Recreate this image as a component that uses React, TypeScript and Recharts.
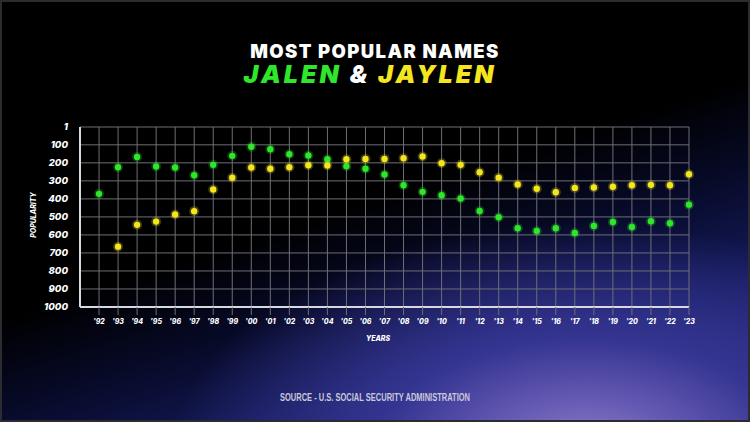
import React from "react";
import { ScatterChart, Scatter, XAxis, YAxis, CartesianGrid } from "recharts";

const years = [1992, 1993, 1994, 1995, 1996, 1997, 1998, 1999, 2000, 2001, 2002, 2003, 2004, 2005, 2006, 2007, 2008, 2009, 2010, 2011, 2012, 2013, 2014, 2015, 2016, 2017, 2018, 2019, 2020, 2021, 2022, 2023];
const jalenRanks = [372, 224, 167, 220, 226, 269, 211, 161, 111, 124, 152, 159, 180, 219, 233, 265, 324, 361, 380, 398, 467, 502, 563, 578, 563, 589, 550, 528, 556, 524, 535, 432];
const jaylenRanks: (number | null)[] = [null, 665, 544, 526, 487, 468, 348, 283, 226, 233, 224, 213, 215, 180, 178, 178, 174, 165, 202, 211, 252, 282, 320, 344, 363, 339, 337, 333, 324, 322, 324, 263];
const yTicks = [1, 100, 200, 300, 400, 500, 600, 700, 800, 900, 1000];

const jalenData = years.map((y, i) => ({ year: y, rank: jalenRanks[i] }));
const jaylenData = years
  .map((y, i) => ({ year: y, rank: jaylenRanks[i] }))
  .filter((d) => d.rank !== null);

const GREEN = "#2ee62a";
const YELLOW = "#f3e51e";
const GRID = "#6e6e76";
const FONT = "Inter, 'Open Sans', sans-serif";

const GlowDot = (props: any) => {
  const { cx, cy, fill } = props;
  if (cx == null || cy == null) return null;
  return (
    <g>
      <circle cx={cx} cy={cy} r={5} fill={fill} opacity={0.25} />
      <circle cx={cx} cy={cy} r={3.2} fill={fill} />
    </g>
  );
};

export default function App() {
  return (
    <div
      style={{
        position: "absolute",
        left: 0,
        top: 0,
        width: 750,
        height: 422,
        overflow: "hidden",
        background:
          "radial-gradient(ellipse 55% 55% at 78% 108%, #8f84cc 0%, #6459b2 25%, #353592 50%, rgba(30,34,110,0) 100%), linear-gradient(162deg, #000 48%, #070a28 62%, #141a5a 78%, #2a2c80 100%)",
        boxShadow: "inset 0 0 0 2px #2c2c30",
      }}
    >
      <ScatterChart
        width={750}
        height={422}
        margin={{ top: 127, right: 61, bottom: 85, left: 0 }}
        style={{ position: "absolute", left: 0, top: 0 }}
      >
        <CartesianGrid stroke={GRID} strokeWidth={1} />
        <XAxis
          type="number"
          dataKey="year"
          domain={[1991, 2023]}
          ticks={years}
          interval={0}
          height={30}
          tickFormatter={(v: number) => "'" + String(v).slice(2)}
          tick={{ fill: "#ffffff", fontSize: 7, fontWeight: 800, fontStyle: "italic", fontFamily: FONT }}
          tickLine={{ stroke: GRID }}
          tickSize={8}
          tickMargin={4}
          axisLine={{ stroke: "#d8d8e0", strokeWidth: 2 }}
        />
        <YAxis
          type="number"
          dataKey="rank"
          reversed
          domain={[1, 1000]}
          ticks={yTicks}
          interval={0}
          width={80}
          tick={{ fill: "#ffffff", fontSize: 9.5, fontWeight: 800, fontStyle: "italic", fontFamily: FONT }}
          tickLine={false}
          tickSize={0}
          tickMargin={12}
          axisLine={{ stroke: "#d8d8e0", strokeWidth: 2 }}
        />
        <Scatter data={jalenData} fill={GREEN} shape={GlowDot} isAnimationActive={false} />
        <Scatter data={jaylenData} fill={YELLOW} shape={GlowDot} isAnimationActive={false} />
      </ScatterChart>
      <svg
        width={750}
        height={422}
        style={{ position: "absolute", left: 0, top: 0, pointerEvents: "none" }}
      >
        <text
          x={375}
          y={58}
          textAnchor="middle"
          fill="#ffffff"
          fontSize={18.5}
          fontWeight={900}
          fontFamily={FONT}
          letterSpacing={1.4}
        >
          MOST POPULAR NAMES
        </text>
        <text
          x={370}
          y={83}
          textAnchor="middle"
          fontSize={25}
          fontWeight={900}
          fontStyle="italic"
          fontFamily={FONT}
          letterSpacing={3}
        >
          <tspan fill={GREEN}>JALEN</tspan>
          <tspan fill="#ffffff"> &amp; </tspan>
          <tspan fill={YELLOW}>JAYLEN</tspan>
        </text>
        <text
          x={36}
          y={215}
          transform="rotate(-90 36 215)"
          textAnchor="middle"
          fill="#ffffff"
          fontSize={7}
          fontWeight={800}
          fontStyle="italic"
          fontFamily={FONT}
        >
          POPULARITY
        </text>
        <text x={378} y={341} textAnchor="middle" fill="#ffffff" fontSize={7} fontWeight={800} fontStyle="italic" fontFamily={FONT}>
          YEARS
        </text>
        <text
          x={375}
          y={401}
          textAnchor="middle"
          fill="#c9c9d9"
          fontSize={11}
          fontWeight={700}
          fontFamily="'Liberation Sans', Roboto, sans-serif"
          textLength={190}
          lengthAdjust="spacingAndGlyphs"
        >
          SOURCE - U.S. SOCIAL SECURITY ADMINISTRATION
        </text>
      </svg>
    </div>
  );
}
